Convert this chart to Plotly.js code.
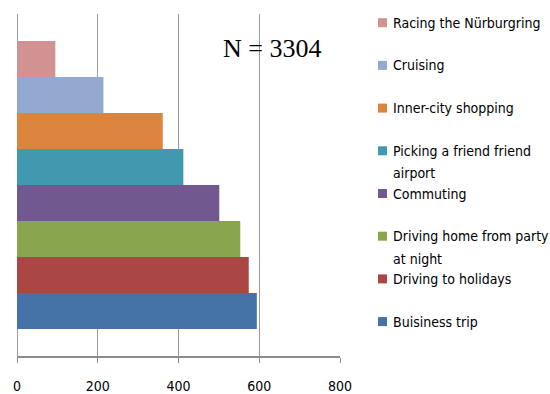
<!DOCTYPE html>
<html>
<head>
<meta charset="utf-8">
<script src="https://cdn.plot.ly/plotly-3.0.1.min.js"></script>
<style>
  html, body { margin: 0; padding: 0; background: #fff; }
  #chart { width: 550px; height: 394px; }
</style>
</head>
<body>
<div id="chart"></div>
<script>
// Trip purposes, bottom bar first
const categories = [
  'Buisiness trip',
  'Driving to holidays',
  'Driving home from party<br>at night',
  'Commuting',
  'Picking a friend friend<br>airport',
  'Inner-city shopping',
  'Cruising',
  'Racing the Nürburgring'
];
const values = [594, 574, 553, 501, 412, 361, 214, 95];
const colors = ['#4572A7', '#AA4643', '#89A54E', '#71588F', '#4198AF', '#DB843D', '#93A9CF', '#D19392'];
const xTicks = [0, 200, 400, 600, 800];
const sampleLabel = 'N = 3304';

const W = 550, H = 394;
const margin = { l: 17, r: 210, t: 14, b: 38 };
const plotW = W - margin.l - margin.r;
const plotH = H - margin.t - margin.b;

// One trace per purpose, grouped on a single category
const traces = categories.map((name, i) => ({
  type: 'bar',
  orientation: 'h',
  name: name,
  x: [values[i]],
  y: ['all'],
  marker: { color: colors[i], line: { width: 0 } },
  hoverinfo: 'x+name',
  showlegend: false
}));

const narrow = 'DejaVu Sans Condensed, DejaVu Sans, sans-serif';

// Hand-laid legend to the right of the plot, top item = last trace
const legendFont = { family: narrow, size: 14, color: '#000', stretch: 'condensed' };
const firstRowPx = 22.7;   // swatch centre of top row, px from top
const rowStepPx = 42.7;
const lineStepPx = 22.5;
const swatchLeftPx = 378, swatchSizePx = 9, textLeftPx = 391;
const px2x = px => (px - margin.l) / plotW;
const px2y = py => (H - margin.b - py) / plotH;

const shapes = [];
const annotations = [];
categories.slice().reverse().forEach((name, row) => {
  const cy = firstRowPx + row * rowStepPx;
  const color = colors[categories.length - 1 - row];
  shapes.push({
    type: 'rect', xref: 'paper', yref: 'paper',
    x0: px2x(swatchLeftPx), x1: px2x(swatchLeftPx + swatchSizePx),
    y0: px2y(cy + swatchSizePx / 2), y1: px2y(cy - swatchSizePx / 2),
    fillcolor: color, line: { width: 0 }
  });
  name.split('<br>').forEach((line, k) => {
    annotations.push({
      xref: 'paper', yref: 'paper',
      x: px2x(textLeftPx), y: px2y(cy + k * lineStepPx),
      xanchor: 'left', yanchor: 'middle',
      text: line, showarrow: false, font: legendFont
    });
  });
});

annotations.push({
  xref: 'paper', yref: 'paper',
  x: px2x(272), y: px2y(48),
  xanchor: 'center', yanchor: 'middle',
  text: sampleLabel, showarrow: false,
  font: { family: 'Liberation Serif, Times New Roman, serif', size: 26, color: '#000' }
});

const layout = {
  width: W, height: H,
  margin: margin,
  paper_bgcolor: '#fff', plot_bgcolor: '#fff',
  barmode: 'group',
  bargap: 0.158,
  bargroupgap: 0,
  showlegend: false,
  xaxis: {
    range: [0, 800],
    tickvals: xTicks,
    ticktext: xTicks.map(String),
    showgrid: true, gridcolor: '#999999', gridwidth: 1,
    zeroline: true, zerolinecolor: '#999999', zerolinewidth: 1,
    showline: true, linecolor: '#8c8c8c', linewidth: 2,
    ticks: 'outside', ticklen: 5, tickwidth: 1, tickcolor: '#8c8c8c',
    ticklabelstandoff: 11,
    tickfont: { family: narrow, size: 14, color: '#000', stretch: 'condensed' },
    fixedrange: true
  },
  yaxis: {
    type: 'category',
    showticklabels: false, showgrid: false, zeroline: false, showline: false,
    ticks: '', fixedrange: true
  },
  shapes: shapes,
  annotations: annotations
};

Plotly.newPlot('chart', traces, layout, { displayModeBar: false, staticPlot: true });
</script>
</body>
</html>
